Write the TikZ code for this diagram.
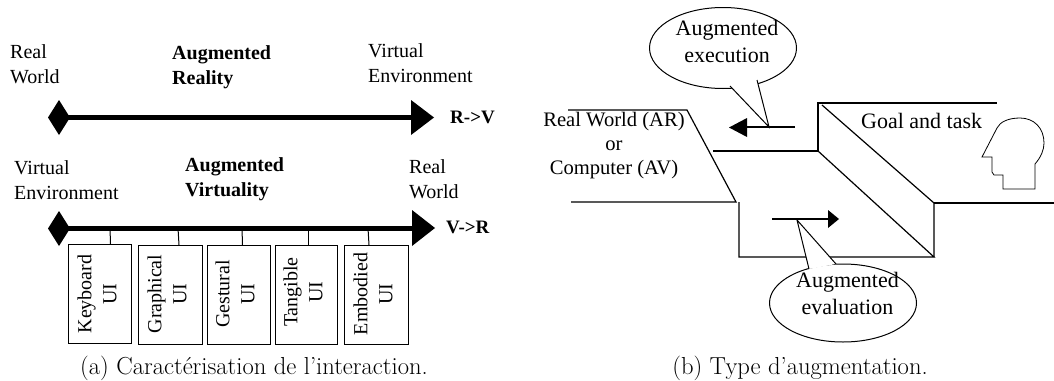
\documentclass[tikz,border=0pt]{standalone}
\usepackage{fontspec}
\setmainfont{Liberation Serif}
\newfontfamily\capfont{Latin Modern Roman}
\usetikzlibrary{shapes.geometric}
\tikzset{
  lab/.style={font=\fontsize{20}{24.5}\selectfont,align=left,inner sep=0pt,anchor=west},
  blab/.style={lab,font=\fontsize{20}{24.5}\selectfont\bfseries},
  vlab/.style={font=\fontsize{20}{25}\selectfont,align=center,inner sep=0pt,rotate=90},
  uibox/.style={draw,line width=1pt},
  axis/.style={line width=5pt},
  stem/.style={line width=1pt},
  wire/.style={line width=1.2pt},
  captext/.style={font=\capfont\fontsize{24.6}{28}\selectfont,inner sep=0pt},
  bubble/.style={draw,ellipse,fill=white,line width=1pt,inner sep=0pt,minimum width=147pt,minimum height=81pt},
  ctext/.style={font=\fontsize{22}{26.5}\selectfont,align=center,inner sep=0pt},
  diam/.style={fill=black},
  head/.style={fill=black}
}
\begin{document}
\begin{tikzpicture}[x=1pt,y=-1pt]
\useasboundingbox (0,0) rectangle (1054,380);
% left top
\node[lab] (rw1) at (10,64) {Real\\World};
\node[blab] (ar) at (172,67) {Augmented\\Reality};
\node[lab] (ve1) at (368,63) {Virtual\\Environment};
\coordinate (a1s) at (65,117); \coordinate (a1e) at (415,117);
\draw[axis] (a1s) -- (a1e);
\fill[diam] (59,100) -- (70,117.5) -- (59,135) -- (48,117.5) -- cycle;
\fill[head] (411,100) -- (434,117.5) -- (411,135) -- cycle;
\node[blab,anchor=west,font=\fontsize{19}{24}\selectfont\bfseries] (rv) at (450,117) {R->V};
% left bottom
\node[lab] (ve2) at (14,180) {Virtual\\Environment};
\node[blab] (av) at (185,179) {Augmented\\Virtuality};
\node[lab] (rw2) at (409,179) {Real\\World};
\coordinate (a2s) at (65,228); \coordinate (a2e) at (415,228);
\draw[axis] (a2s) -- (a2e);
\fill[diam] (59,211) -- (70,228.5) -- (59,246) -- (48,228.5) -- cycle;
\fill[head] (412,210) -- (435,228) -- (412,246) -- cycle;
\node[blab,anchor=west,font=\fontsize{19}{24}\selectfont\bfseries] (vr) at (446,227) {V->R};
% UI boxes
\draw[uibox] (68.5,244) rectangle (131,343); 
\draw[uibox] (138,245) rectangle (202,344);
\draw[uibox] (207,245) rectangle (270,344);
\draw[uibox] (275,245) rectangle (337,344);
\draw[uibox] (344,245) rectangle (408,344);
\draw[stem] (110,228) -- (110.5,244);
\draw[stem] (178,228) -- (179,245);
\draw[stem] (242,228) -- (242.5,245);
\draw[stem] (308,228) -- (308,245);
\draw[stem] (368,228) -- (369,245);
\node[vlab] (k) at (97,294) {Keyboard\\UI};
\node[vlab] (g) at (167,294) {Graphical\\UI};
\node[vlab] (ge) at (235,294) {Gestural\\UI};
\node[vlab] (t) at (303,292) {Tangible\\UI};
\node[vlab] (e) at (373,294) {Embodied\\UI};
\node[captext] (ca) at (254,368) {(a) Caractérisation de l’interaction.};
% right diagram
\draw[wire] (568,110) -- (687,110) -- (736,202) -- (571,202);
\draw[wire] (713,151) -- (818,151) -- (818,103) -- (997,103);
\draw[wire] (818,151) -- (934,257) -- (739,257) -- (739,202);
\draw[wire] (822,105) -- (934,203) -- (934,257);
\draw[wire] (934,203) -- (1054,203);
% arrows
\draw[line width=1.6pt] (795,127) -- (745,127);
\fill[head] (747,118) -- (729,127.5) -- (747,137) -- cycle;
\draw[line width=1.6pt] (772,219) -- (830,219);
\fill[head] (828,210) -- (839,219) -- (828,228) -- cycle;
% bubbles
\node[bubble] (b1) at (723,48) {};
\coordinate (t1a) at (730,86); \coordinate (t1b) at (769,127); \coordinate (t1c) at (757,80);
\fill[white] (t1a) -- (t1b) -- (t1c) -- cycle;
\draw[stem] (t1a) -- (t1b) -- (t1c);
\node[ctext] (b1t) at (727,41.5) {Augmented\\execution};
\node[bubble,minimum height=78pt] (b2) at (843,303) {};
\coordinate (t2a) at (809,269); \coordinate (t2b) at (797,220); \coordinate (t2c) at (836,264);
\fill[white] (t2a) -- (t2b) -- (t2c) -- cycle;
\draw[stem] (t2a) -- (t2b) -- (t2c);
\node[ctext] (b2t) at (847.5,293.5) {Augmented\\evaluation};
\node[ctext,font=\fontsize{20.6}{24}\selectfont] (rwc) at (614,146) {Real World (AR)\\or\\Computer (AV)};
\node[lab,font=\fontsize{22}{26}\selectfont] (gt) at (861,121) {Goal and task};
\draw[line width=0.8pt] (982,157) -- (992,157) -- (992,172) -- (994,175) -- (1003,175) -- (1003,189) -- (1035,189) -- (1035,164) .. controls (1041,157) and (1044,150) .. (1044,143) .. controls (1044,128) and (1034,118) .. (1020,118) .. controls (1008,118) and (1000,122) .. (997,128) -- cycle;
\node[captext] (cb) at (800,368) {(b) Type d’augmentation.};
\end{tikzpicture}
\end{document}
